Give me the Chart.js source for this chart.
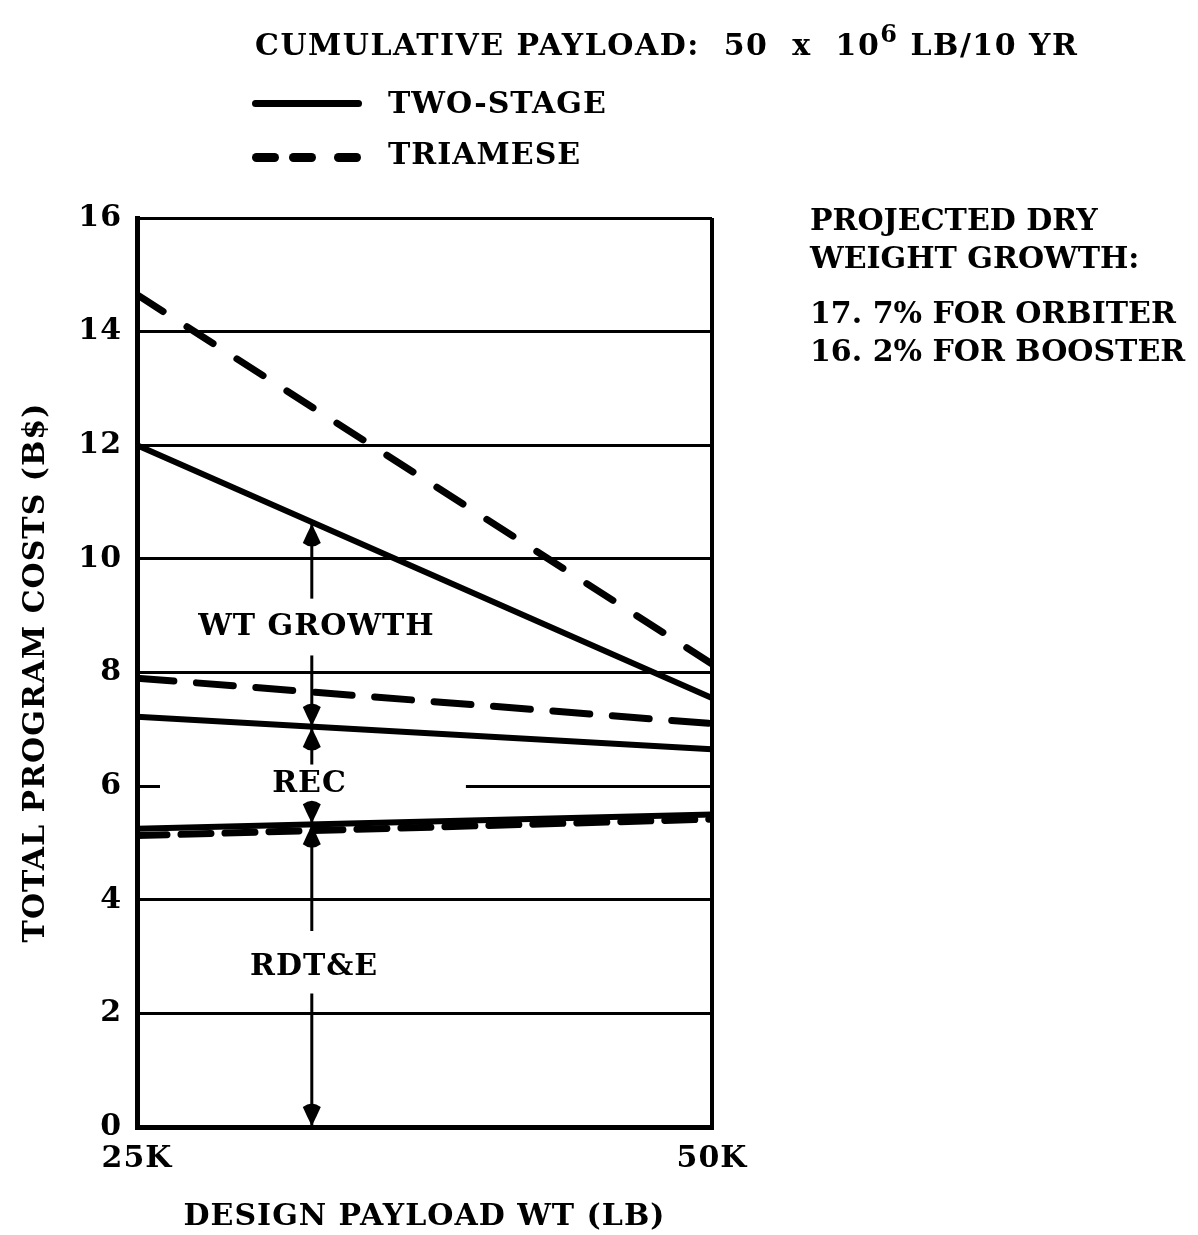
<!DOCTYPE html>
<html>
<head>
<meta charset="utf-8">
<script src="https://cdn.jsdelivr.net/npm/chart.js@4.4.1/dist/chart.umd.min.js"></script>
<style>
  html, body { margin:0; padding:0; background:#fff; }
  body { width:1198px; height:1235px; position:relative; overflow:hidden;
         font-family:"DejaVu Serif", serif; font-weight:bold; color:#000; }
  #c { position:absolute; left:0; top:0; }
  .t { position:absolute; white-space:nowrap; font-size:30px; line-height:1; }
  .solid { position:absolute; height:7px; background:#000; border-radius:4px; }
  .dash { position:absolute; height:9px; width:27px; background:#000; border-radius:5px; }
  .sup { font-size:24px; position:relative; top:-13px; }
</style>
</head>
<body>
<canvas id="c" width="1198" height="1235"></canvas>
<div class="t" style="left:255px; top:30px; letter-spacing:1.5px;">CUMULATIVE PAYLOAD:&nbsp; 50&nbsp; x&nbsp; 10<span class="sup">6</span> LB/10 YR</div>
<div class="solid" style="left:252px; top:100px; width:110px;"></div>
<div class="t" style="left:388px; top:88px; letter-spacing:1px;">TWO-STAGE</div>
<div class="dash" style="left:252px; top:153px;"></div>
<div class="dash" style="left:289px; top:153px;"></div>
<div class="dash" style="left:334px; top:153px;"></div>
<div class="t" style="left:388px; top:139px; letter-spacing:1px;">TRIAMESE</div>
<div class="t" style="left:810px; top:205px;">PROJECTED DRY</div>
<div class="t" style="left:810px; top:243px;">WEIGHT GROWTH:</div>
<div class="t" style="left:810px; top:298px;">17. 7% FOR ORBITER</div>
<div class="t" style="left:810px; top:336px;">16. 2% FOR BOOSTER</div>
<script>
// ---- data ----
const payloadK = [25, 50];                 // design payload weight, K lb
const twoStageTotal = [12.0, 7.55];        // total incl. weight growth
const triameseTotal = [14.65, 8.15];
const twoStageRec = [7.22, 6.65];          // RDT&E + REC
const triameseRec = [7.9, 7.1];
const twoStageRdte = [5.25, 5.5];          // RDT&E
const triameseRdte = [5.13, 5.42];
const yTickValues = [0, 2, 4, 6, 8, 10, 12, 14, 16];
const xTickLabels = {25: '25K', 50: '50K'};

const FONT = "'DejaVu Serif', serif";

function pts(ys) { return payloadK.map((x, i) => ({x: x, y: ys[i]})); }

function ds(label, ys, dash) {
  return {
    label: label, data: pts(ys), borderColor: '#000', backgroundColor: '#000',
    borderWidth: dash ? 7 : 6, borderDash: dash || [], borderCapStyle: 'round',
    pointRadius: 0, tension: 0, fill: false
  };
}

// in-plot annotation: vertical arrow with labels
const annot = {
  x: 32.6,
  segments: [ // [from, to] in value units
    [10.63, 9.3], [8.3, 7.04], [7.04, 6.38], [5.66, 5.33], [5.33, 3.45], [2.35, 0]
  ],
  headsUp: [10.63, 7.04, 5.33],
  headsDown: [7.04, 5.33, 0],
  labels: [
    {text: 'WT GROWTH', x: 32.8, y: 8.8},
    {text: 'REC', x: 32.5, y: 6.03},
    {text: 'RDT&E', x: 32.7, y: 2.82}
  ],
  gridGap: {value: 6, from: 26.0, to: 39.3}
};

function head(ctx, x, tip, dir) { // dir=-1 pointing up (tip above), +1 pointing down
  const L = 24, W = 9;
  const base = tip - dir * L;
  ctx.beginPath();
  ctx.moveTo(x, tip);
  ctx.quadraticCurveTo(x - W * 0.6, tip - dir * L * 0.45, x - W, base + dir * 5);
  ctx.quadraticCurveTo(x, base - dir * 2, x + W, base + dir * 5);
  ctx.quadraticCurveTo(x + W * 0.6, tip - dir * L * 0.45, x, tip);
  ctx.closePath();
  ctx.fill();
}

const annotPlugin = {
  id: 'annot',
  beforeDraw(chart) { chart.ctx.letterSpacing = '1px'; },
  afterDatasetsDraw(chart) {
    const ctx = chart.ctx, xs = chart.scales.x, ys = chart.scales.y;
    ctx.save();
    // gap in the 6 grid line around the REC label
    const gy = ys.getPixelForValue(annot.gridGap.value);
    const gx0 = xs.getPixelForValue(annot.gridGap.from), gx1 = xs.getPixelForValue(annot.gridGap.to);
    ctx.fillStyle = '#fff';
    ctx.fillRect(gx0, gy - 3, gx1 - gx0, 6);
    const ax = xs.getPixelForValue(annot.x);
    ctx.strokeStyle = '#000'; ctx.fillStyle = '#000'; ctx.lineWidth = 3;
    annot.segments.forEach(s => {
      ctx.beginPath();
      ctx.moveTo(ax, ys.getPixelForValue(s[0]));
      ctx.lineTo(ax, ys.getPixelForValue(s[1]));
      ctx.stroke();
    });
    annot.headsUp.forEach(v => head(ctx, ax, ys.getPixelForValue(v) + 1, -1));
    annot.headsDown.forEach(v => head(ctx, ax, ys.getPixelForValue(v) - 1, 1));
    ctx.font = 'bold 30px ' + FONT;
    ctx.textAlign = 'center'; ctx.textBaseline = 'middle';
    annot.labels.forEach(l => ctx.fillText(l.text, xs.getPixelForValue(l.x), ys.getPixelForValue(l.y)));
    ctx.restore();
  }
};

new Chart(document.getElementById('c'), {
  type: 'line',
  data: {
    datasets: [
      ds('TRIAMESE', triameseTotal, [31, 28.4]),
      ds('TWO-STAGE', twoStageTotal, null),
      ds('TRIAMESE REC', triameseRec, [37, 22.6]),
      ds('TWO-STAGE REC', twoStageRec, null),
      ds('TRIAMESE RDT&E', triameseRdte, [30, 14]),
      ds('TWO-STAGE RDT&E', twoStageRdte, null)
    ]
  },
  options: {
    responsive: false, animation: false, devicePixelRatio: 1,
    layout: { padding: { left: 0, right: 486, top: 218, bottom: 0 } },
    plugins: { legend: { display: false }, tooltip: { enabled: false }, title: { display: false } },
    scales: {
      x: {
        type: 'linear', min: 25, max: 50,
        afterFit(s) { s.height = 108; },
        afterBuildTicks(s) { s.ticks = payloadK.map(v => ({value: v})); },
        grid: { color: '#000', lineWidth: 4, drawTicks: false },
        border: { color: '#000', width: 5 },
        ticks: { color: '#000', font: { family: FONT, size: 30, weight: 'bold' }, padding: 14, maxRotation: 0,
                 callback: v => xTickLabels[v] || '' },
        title: { display: true, text: 'DESIGN PAYLOAD WT (LB)', color: '#000',
                 font: { family: FONT, size: 30, weight: 'bold' }, padding: { top: 0, bottom: 0 } }
      },
      y: {
        min: 0, max: 16,
        afterFit(s) { s.width = 137; },
        afterBuildTicks(s) { s.ticks = yTickValues.map(v => ({value: v})); },
        grid: { color: '#000', lineWidth: 3, drawTicks: false },
        border: { color: '#000', width: 5 },
        ticks: { color: '#000', font: { family: FONT, size: 30, weight: 'bold' }, padding: 15 },
        title: { display: true, text: 'TOTAL PROGRAM COSTS (B$)', color: '#000',
                 font: { family: FONT, size: 30, weight: 'bold' }, padding: { top: 18, bottom: 0 } }
      }
    }
  },
  plugins: [annotPlugin]
});
</script>
</body>
</html>
